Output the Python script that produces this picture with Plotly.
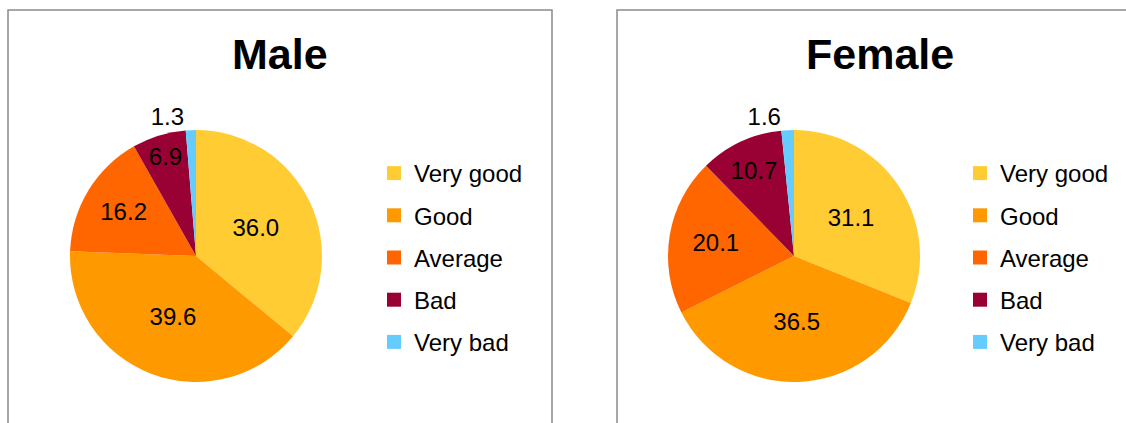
import plotly.graph_objects as go

categories = ["Very good", "Good", "Average", "Bad", "Very bad"]
male_values = [36.0, 39.6, 16.2, 6.9, 1.3]
female_values = [31.1, 36.5, 20.1, 10.7, 1.6]
panel_titles = ["Male", "Female"]
colors = ["#FFCC33", "#FF9900", "#FF6600", "#990033", "#66CCFF"]
text_positions = ["inside", "inside", "inside", "inside", "outside"]

W, H = 1126, 423
FONT = "Liberation Sans, Arial, sans-serif"


def px_x(v):
    return v / W


def px_y(v):
    return 1 - v / H


fig = go.Figure()

pie_specs = [
    (male_values, (196, 256), "legend"),
    (female_values, (794, 256), "legend2"),
]
half = 126
for vals, (cx, cy), leg in pie_specs:
    fig.add_trace(go.Pie(
        labels=categories,
        values=vals,
        sort=False,
        direction="clockwise",
        rotation=0,
        marker=dict(colors=colors, line=dict(width=0)),
        texttemplate="%{value:.1f}",
        textposition=text_positions,
        insidetextorientation="horizontal",
        textfont=dict(family=FONT, size=24, color="black"),
        insidetextfont=dict(family=FONT, size=24, color="black"),
        outsidetextfont=dict(family=FONT, size=24, color="black"),
        domain=dict(x=[px_x(cx - half), px_x(cx + half)],
                    y=[px_y(cy + half), px_y(cy - half)]),
        showlegend=False,
        hoverinfo="label+value",
    ))
    # legend entries (one group per category for spacing)
    for cat, col in zip(categories, colors):
        fig.add_trace(go.Scatter(
            x=[None], y=[None], mode="markers", name=cat,
            marker=dict(symbol="square", size=14, color=col),
            legend=leg, legendgroup=leg + cat, showlegend=True,
            hoverinfo="skip",
        ))

legend_common = dict(
    font=dict(family=FONT, size=24, color="black"),
    bgcolor="rgba(0,0,0,0)",
    borderwidth=0,
    tracegroupgap=8,
    traceorder="grouped",
    xanchor="left",
    yanchor="top",
    itemsizing="trace",
)

fig.update_layout(
    width=W, height=H,
    margin=dict(l=0, r=0, t=0, b=0),
    paper_bgcolor="white",
    plot_bgcolor="white",
    xaxis=dict(visible=False),
    yaxis=dict(visible=False),
    legend=dict(x=px_x(374), y=px_y(151), **legend_common),
    legend2=dict(x=px_x(960), y=px_y(151), **legend_common),
    uniformtext=dict(minsize=24, mode="show"),
    shapes=[
        dict(type="rect", xref="paper", yref="paper",
             x0=px_x(8), x1=px_x(552), y0=-0.1, y1=px_y(10),
             line=dict(color="#8a8a8a", width=1.5), layer="below"),
        dict(type="rect", xref="paper", yref="paper",
             x0=px_x(617), x1=1.05, y0=-0.1, y1=px_y(10),
             line=dict(color="#8a8a8a", width=1.5), layer="below"),
    ],
    annotations=[
        dict(text="<b>%s</b>" % panel_titles[0], x=px_x(280), y=px_y(54),
             xref="paper", yref="paper", showarrow=False,
             xanchor="center", yanchor="middle",
             font=dict(family=FONT, size=43, color="black")),
        dict(text="<b>%s</b>" % panel_titles[1], x=px_x(880), y=px_y(54),
             xref="paper", yref="paper", showarrow=False,
             xanchor="center", yanchor="middle",
             font=dict(family=FONT, size=43, color="black")),
    ],
)

fig.write_html("out.html", config={"displayModeBar": False},
               post_script="document.body.style.margin='0';")
